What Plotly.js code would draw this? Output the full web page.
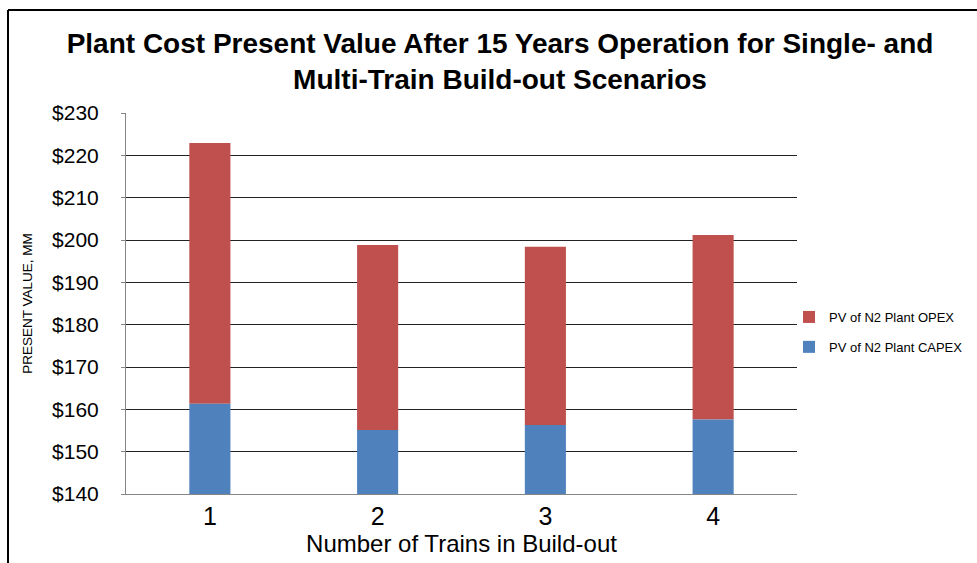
<!DOCTYPE html>
<html>
<head>
<meta charset="utf-8">
<script src="https://cdn.plot.ly/plotly-3.0.1.min.js"></script>
<style>html,body{margin:0;padding:0;background:#fff;}#chart{width:977px;height:563px;}</style>
</head>
<body>
<div id="chart"></div>
<script>
const categories = ['1', '2', '3', '4'];
const capex = [161.3, 155.1, 156.3, 157.6];
const opex = [61.6, 43.7, 42.1, 43.6];
const yTicks = [140, 150, 160, 170, 180, 190, 200, 210, 220, 230];
const yTickLabels = ['$140', '$150', '$160', '$170', '$180', '$190', '$200', '$210', '$220', '$230'];

const FONT = '"Liberation Sans", Arial, sans-serif';
const base = 140;

const traces = [
  {
    type: 'bar', name: 'PV of N2 Plant OPEX', x: categories,
    y: opex, base: capex,
    legendgroup: 'opex',
    marker: {color: '#C0504D'}
  },
  {
    type: 'bar', name: 'PV of N2 Plant CAPEX', x: categories,
    y: capex.map(v => v - base), base: base,
    legendgroup: 'capex',
    marker: {color: '#4F81BD'}
  }
];

const L = 126, R = 797, T = 113, B = 494;
const W = 977, H = 563;
const pw = R - L, ph = B - T;
function px(x) { return (x - L) / pw; }
function py(y) { return (B - y) / ph; }

const layout = {
  width: W, height: H,
  margin: {l: L, r: W - R, t: T, b: H - B, autoexpand: false},
  paper_bgcolor: '#fff', plot_bgcolor: '#fff',
  barmode: 'overlay',
  bargap: 0.755,
  showlegend: true,
  font: {family: FONT, color: '#000'},
  title: {
    text: '<b>Plant Cost Present Value After 15 Years Operation for Single- and<br>Multi-Train Build-out Scenarios</b>',
    font: {family: FONT, size: 28, color: '#000'},
    x: px(500), xanchor: 'center', xref: 'paper',
    y: 0.906, yanchor: 'top', yref: 'container'
  },
  xaxis: {
    type: 'category',
    showgrid: false,
    showline: true, linecolor: '#868686', linewidth: 1,
    ticks: '', tickfont: {family: FONT, size: 25, color: '#000'},
    title: {text: 'Number of Trains in Build-out', font: {family: FONT, size: 24, color: '#000'}, standoff: 4},
    automargin: false,
    fixedrange: true
  },
  yaxis: {
    range: [140, 230],
    tickvals: yTicks, ticktext: yTickLabels,
    showgrid: true, gridcolor: '#222', gridwidth: 1,
    showline: true, linecolor: '#868686', linewidth: 1,
    ticks: 'outside', ticklen: 4, tickcolor: '#868686',
    ticklabelstandoff: 18,
    tickfont: {family: FONT, size: 21, color: '#000'},
    title: {text: 'PRESENT VALUE, MM', font: {family: FONT, size: 13.5, color: '#000'}, standoff: 16},
    zeroline: false,
    automargin: false,
    fixedrange: true
  },
  legend: {
    x: px(789), y: py(302), xanchor: 'left', yanchor: 'top',
    traceorder: 'grouped',
    font: {family: FONT, size: 13, color: '#000'},
    bgcolor: 'rgba(0,0,0,0)',
    tracegroupgap: 10
  },
  shapes: [
    {type: 'line', xref: 'paper', yref: 'paper',
     x0: px(8), x1: px(980), y0: py(10), y1: py(10),
     line: {color: '#000', width: 2}},
    {type: 'line', xref: 'paper', yref: 'paper',
     x0: px(8), x1: px(8), y0: py(10), y1: py(570),
     line: {color: '#000', width: 2}}
  ]
};

Plotly.newPlot('chart', traces, layout, {displayModeBar: false, staticPlot: true});
</script>
</body>
</html>
